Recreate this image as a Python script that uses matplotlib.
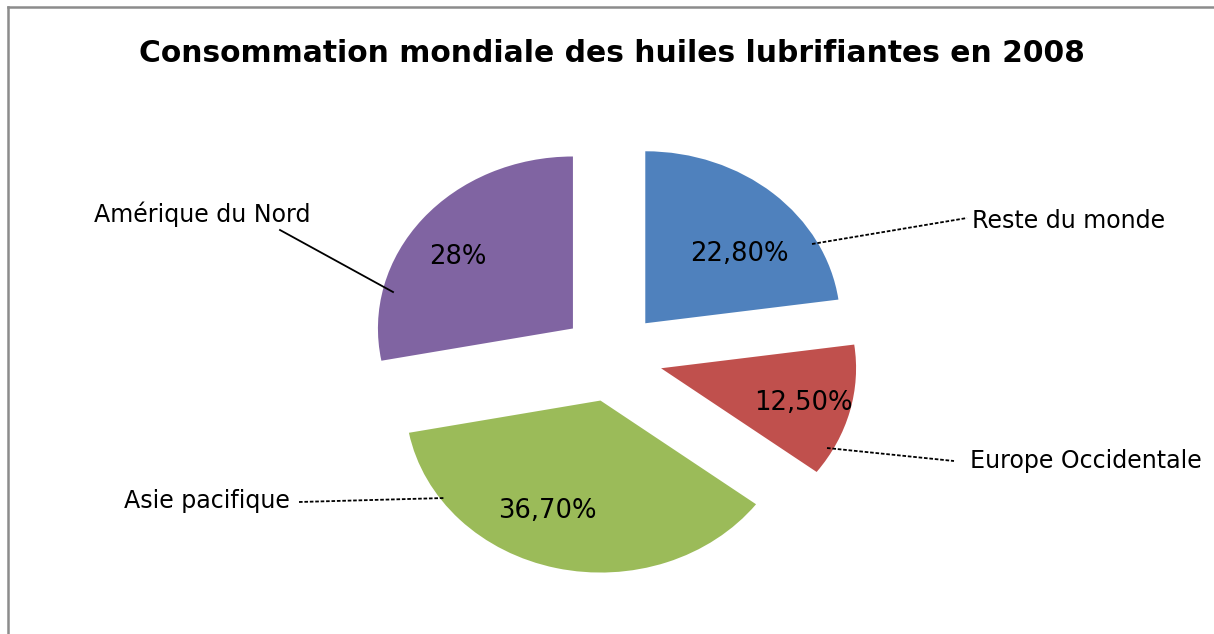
import matplotlib
matplotlib.use("Agg")
import matplotlib.pyplot as plt
import numpy as np

W, H = 1214, 634
title = "Consommation mondiale des huiles lubrifiantes en 2008"
categories = ["Reste du monde", "Europe Occidentale", "Asie pacifique", "Amérique du Nord"]
values = [22.8, 12.5, 36.7, 28.0]
pct_labels = ["22,80%", "12,50%", "36,70%", "28%"]
colors = ["#4F81BD", "#C0504D", "#9BBB59", "#8064A2"]

FONT = "DejaVu Sans"

fig = plt.figure(figsize=(W / 100, H / 100), dpi=100)
fig.patch.set_facecolor("white")
renderer = fig.canvas.get_renderer()

def fit_size(texts, widths, base=10, weight="normal"):
    ratios = []
    for s, w in zip(texts, widths):
        t = fig.text(0, 0, s, fontsize=base, family=FONT, fontweight=weight)
        bb = t.get_window_extent(renderer)
        ratios.append(w / bb.width)
        t.remove()
    return base * float(np.median(ratios))

# pie geometry in pixels (top-left origin)
cx, cy, rx, ry = 612, 357, 195, 172
hw, hh = 300, 265
ax = fig.add_axes([(cx - hw) / W, (H - cy - hh) / H, 2 * hw / W, 2 * hh / H])
wedges, _ = ax.pie(values, startangle=90, counterclock=False, colors=colors,
                   explode=[0.26] * len(values), radius=1,
                   wedgeprops=dict(linewidth=0))
ax.set_aspect("auto")
ax.set_xlim(-hw / rx, hw / rx)
ax.set_ylim(-hh / ry, hh / ry)
ax.axis("off")

def fpx(x, y):
    return x / W, 1 - y / H

# percentage labels inside slices: (radius, angle) from each wedge vertex
pct_layout = [(0.63, 40), (0.76, -15.6), (0.70, -113), (0.72, 145)]
pct_size = fit_size(pct_labels, [98, 98, 100, 57])
for w, lab, (r, a) in zip(wedges, pct_labels, pct_layout):
    vx, vy = w.center
    ax.text(vx + r * np.cos(np.radians(a)), vy + r * np.sin(np.radians(a)), lab,
            ha="center", va="center", fontsize=pct_size, family=FONT, color="black")

# outer labels with leader lines (pixel coordinates, text centre)
outer = {
    "Reste du monde": dict(text=(1069, 221), w=194, line=[(812, 244), (967, 218)], ls=(0, (2, 1))),
    "Europe Occidentale": dict(text=(1086, 461), w=238, line=[(827, 448), (954, 461)], ls=(0, (2, 1))),
    "Asie pacifique": dict(text=(207, 501), w=167, line=[(299, 502), (445, 498)], ls=(0, (2, 1))),
    "Amérique du Nord": dict(text=(202, 214), w=210, line=[(280, 230), (393, 292)], ls="-"),
}
lab_size = fit_size(categories, [outer[c]["w"] for c in categories])
for name in categories:
    o = outer[name]
    tx, ty = fpx(*o["text"])
    fig.text(tx, ty, name, ha="center", va="center", fontsize=lab_size, family=FONT, color="black")
    (x0, y0), (x1, y1) = o["line"]
    p0, p1 = fpx(x0, y0), fpx(x1, y1)
    fig.add_artist(plt.Line2D([p0[0], p1[0]], [p0[1], p1[1]], transform=fig.transFigure,
                              color="black", lw=1.3, linestyle=o["ls"]))

# title
title_size = fit_size([title], [945], weight="bold")
fig.text(612 / W, 1 - 53 / H, title, ha="center", va="center", fontsize=title_size,
         fontweight="bold", family=FONT, color="black")

# chart frame (top and left visible)
fig.add_artist(plt.Line2D([8 / W, 1], [1 - 7 / H, 1 - 7 / H], transform=fig.transFigure, color="#8c8c8c", lw=1.8))
fig.add_artist(plt.Line2D([8 / W, 8 / W], [0, 1 - 7 / H], transform=fig.transFigure, color="#8c8c8c", lw=1.8))

fig.savefig("out.png", dpi=100, facecolor="white")
